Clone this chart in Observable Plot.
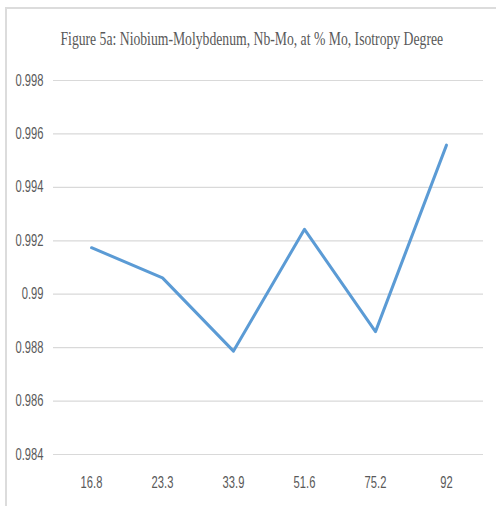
<!DOCTYPE html>
<html>
<head>
<meta charset="utf-8">
<script src="https://cdn.jsdelivr.net/npm/d3@7"></script>
<script src="https://cdn.jsdelivr.net/npm/@observablehq/plot@0.6"></script>
<style>
  html, body { margin: 0; padding: 0; background: #fff; }
  #wrap { position: relative; width: 496px; height: 506px; overflow: hidden; background: #fff; }
  #frame { position: absolute; left: 5px; top: 7px; right: -10px; bottom: -10px;
           border-top: 2px solid #dcdcdc; border-left: 2px solid #dcdcdc; }
  #title { position: absolute; left: 0; width: 496px; top: 29px; text-align: center;
           font-family: "Liberation Serif", serif; font-size: 18px; color: #595959;
           white-space: nowrap; transform: scaleX(0.76); transform-origin: 252px 0; }
  #chart { position: absolute; left: 0; top: 0; }
</style>
</head>
<body>
<div id="wrap">
  <div id="frame"></div>
  <div id="chart"></div>
  <div id="title">Figure 5a: Niobium-Molybdenum, Nb-Mo, at % Mo, Isotropy Degree</div>
</div>
<script>
const categories = ["16.8", "23.3", "33.9", "51.6", "75.2", "92"];
const isotropy = [0.99174, 0.99061, 0.98787, 0.99243, 0.98860, 0.99558];
const yTicks = [0.984, 0.986, 0.988, 0.99, 0.992, 0.994, 0.996, 0.998];

const data = categories.map((c, i) => ({ pct: c, value: isotropy[i] }));

const chart = Plot.plot({
  width: 496,
  height: 506,
  marginTop: 80,
  marginBottom: 52,
  marginLeft: 53,
  marginRight: 13,
  style: { fontFamily: "'Liberation Sans', sans-serif", fontSize: "16px", color: "#595959", background: "transparent" },
  x: { type: "point", domain: categories, padding: 0.5, label: null },
  y: { domain: [0.984, 0.998], label: null },
  marks: [
    Plot.ruleY(yTicks, { stroke: "#d9d9d9", strokeWidth: 1.2 }),
    Plot.axisY({ ticks: yTicks, tickFormat: d => String(+d.toFixed(3)), tickSize: 0, tickPadding: 10, fill: "#595959", label: null, className: "ylab" }),
    Plot.axisX({ tickSize: 0, tickPadding: 22, fill: "#595959", label: null, className: "xlab" }),
    Plot.line(data, { x: "pct", y: "value", stroke: "#5b9bd5", strokeWidth: 3, strokeLinejoin: "round", strokeLinecap: "round" })
  ]
});
// condense the tick labels horizontally, like the narrow face of the original
chart.querySelectorAll(".ylab text, .xlab text").forEach(t => {
  const tr = t.getAttribute("transform") || "";
  t.setAttribute("transform", tr + " scale(0.7,1)");
});
document.getElementById("chart").appendChild(chart);
</script>
</body>
</html>
